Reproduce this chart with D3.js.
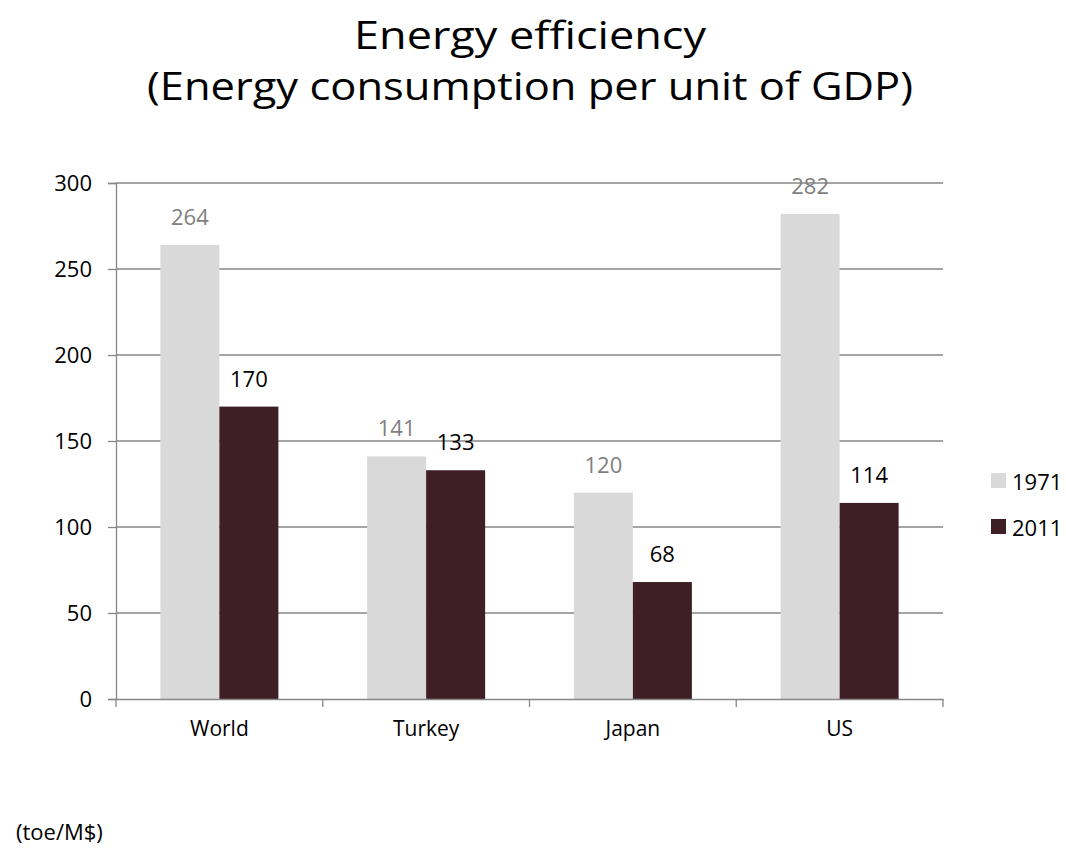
<!doctype html>
<html>
<head>
<meta charset="utf-8">
<script src="https://d3js.org/d3.v7.min.js"></script>
<style>
  body { margin: 0; background: #fff; }
  text { font-family: "Open Sans", "Noto Sans", sans-serif; }
</style>
</head>
<body>
<svg width="1066" height="848"></svg>
<script>
var categories = ["World", "Turkey", "Japan", "US"];
var seriesNames = ["1971", "2011"];
var values1971 = [264, 141, 120, 282];
var values2011 = [170, 133, 68, 114];
var yTicks = [0, 50, 100, 150, 200, 250, 300];

var colors = { "1971": "#d9d9d9", "2011": "#3f1f26" };
var labelColors = { "1971": "#7f7f7f", "2011": "#000000" };

var svg = d3.select("svg");

var plotLeft = 116, plotRight = 943, plotTop = 183, plotBottom = 699;

var data = categories.map(function(c, i) {
    return { cat: c, vals: [
        { s: "1971", v: values1971[i] },
        { s: "2011", v: values2011[i] }
    ] };
});

var x0 = d3.scaleBand().domain(categories).range([plotLeft, plotRight]).padding(0);
var x1 = d3.scaleBand().domain(seriesNames).range([0, x0.bandwidth()])
    .paddingInner(0).paddingOuter(0.752);
var y = d3.scaleLinear().domain([0, 300]).range([plotBottom, plotTop]);

// title, fitted to the width of the original
svg.append("text")
    .attr("x", 530).attr("y", 49)
    .attr("text-anchor", "middle")
    .attr("font-size", "39px")
    .attr("textLength", 352)
    .attr("lengthAdjust", "spacingAndGlyphs")
    .text("Energy efficiency");
svg.append("text")
    .attr("x", 530).attr("y", 100)
    .attr("text-anchor", "middle")
    .attr("font-size", "39px")
    .attr("textLength", 766)
    .attr("lengthAdjust", "spacingAndGlyphs")
    .text("(Energy consumption per unit of GDP)");

// y axis
var yAxis = svg.append("g")
    .attr("transform", "translate(" + plotLeft + ",0)")
    .call(d3.axisLeft(y).tickValues(yTicks).tickSize(8).tickPadding(16));
yAxis.select(".domain").attr("stroke", "#868686").attr("stroke-width", 1.3);
yAxis.selectAll(".tick line").attr("stroke", "#868686").attr("stroke-width", 1.3);
yAxis.selectAll(".tick text")
    .attr("font-family", "Open Sans")
    .attr("font-size", "22px")
    .attr("fill", "#000");

// gridlines
svg.append("g")
    .selectAll("line")
    .data(yTicks.filter(function(d) { return d > 0; }))
    .enter().append("line")
    .attr("x1", plotLeft).attr("x2", plotRight)
    .attr("y1", function(d) { return y(d); })
    .attr("y2", function(d) { return y(d); })
    .attr("stroke", "#868686")
    .attr("stroke-width", 1.3);

// bars
var groups = svg.append("g")
    .selectAll("g")
    .data(data)
    .enter().append("g")
    .attr("transform", function(d) { return "translate(" + x0(d.cat) + ",0)"; });

groups.selectAll("rect")
    .data(function(d) { return d.vals; })
    .enter().append("rect")
    .attr("x", function(d) { return x1(d.s); })
    .attr("y", function(d) { return y(d.v); })
    .attr("width", x1.bandwidth())
    .attr("height", function(d) { return plotBottom - y(d.v); })
    .attr("fill", function(d) { return colors[d.s]; });

groups.selectAll(".lbl")
    .data(function(d) { return d.vals; })
    .enter().append("text")
    .attr("class", "lbl")
    .attr("x", function(d) { return x1(d.s) + x1.bandwidth() / 2; })
    .attr("y", function(d) { return y(d.v) - 20; })
    .attr("text-anchor", "middle")
    .attr("font-size", "22px")
    .attr("fill", function(d) { return labelColors[d.s]; })
    .text(function(d) { return d.v; });

// x axis
var xAxis = svg.append("g")
    .attr("transform", "translate(0," + plotBottom + ")")
    .call(d3.axisBottom(x0).tickSize(0).tickPadding(22));
xAxis.select(".domain").attr("stroke", "#868686").attr("stroke-width", 1.3);
xAxis.selectAll(".tick text")
    .attr("font-family", "Open Sans")
    .attr("font-size", "21px")
    .attr("fill", "#000");

svg.append("g")
    .selectAll("line")
    .data(categories.map(function(c) { return x0(c); }).concat([plotRight]))
    .enter().append("line")
    .attr("x1", function(d) { return d; }).attr("x2", function(d) { return d; })
    .attr("y1", plotBottom).attr("y2", plotBottom + 8)
    .attr("stroke", "#868686")
    .attr("stroke-width", 1.3);

// legend
var legend = svg.append("g")
    .selectAll("g")
    .data(seriesNames)
    .enter().append("g")
    .attr("transform", function(d, i) { return "translate(991," + (473 + i * 46) + ")"; });
legend.append("rect")
    .attr("width", 15).attr("height", 15)
    .attr("fill", function(d) { return colors[d]; });
legend.append("text")
    .attr("x", 21).attr("y", 8)
    .attr("dominant-baseline", "central")
    .attr("font-size", "22px")
    .text(function(d) { return d; });

// unit note
svg.append("text")
    .attr("x", 16).attr("y", 840)
    .attr("font-size", "22px")
    .text("(toe/M$)");
</script>
</body>
</html>
